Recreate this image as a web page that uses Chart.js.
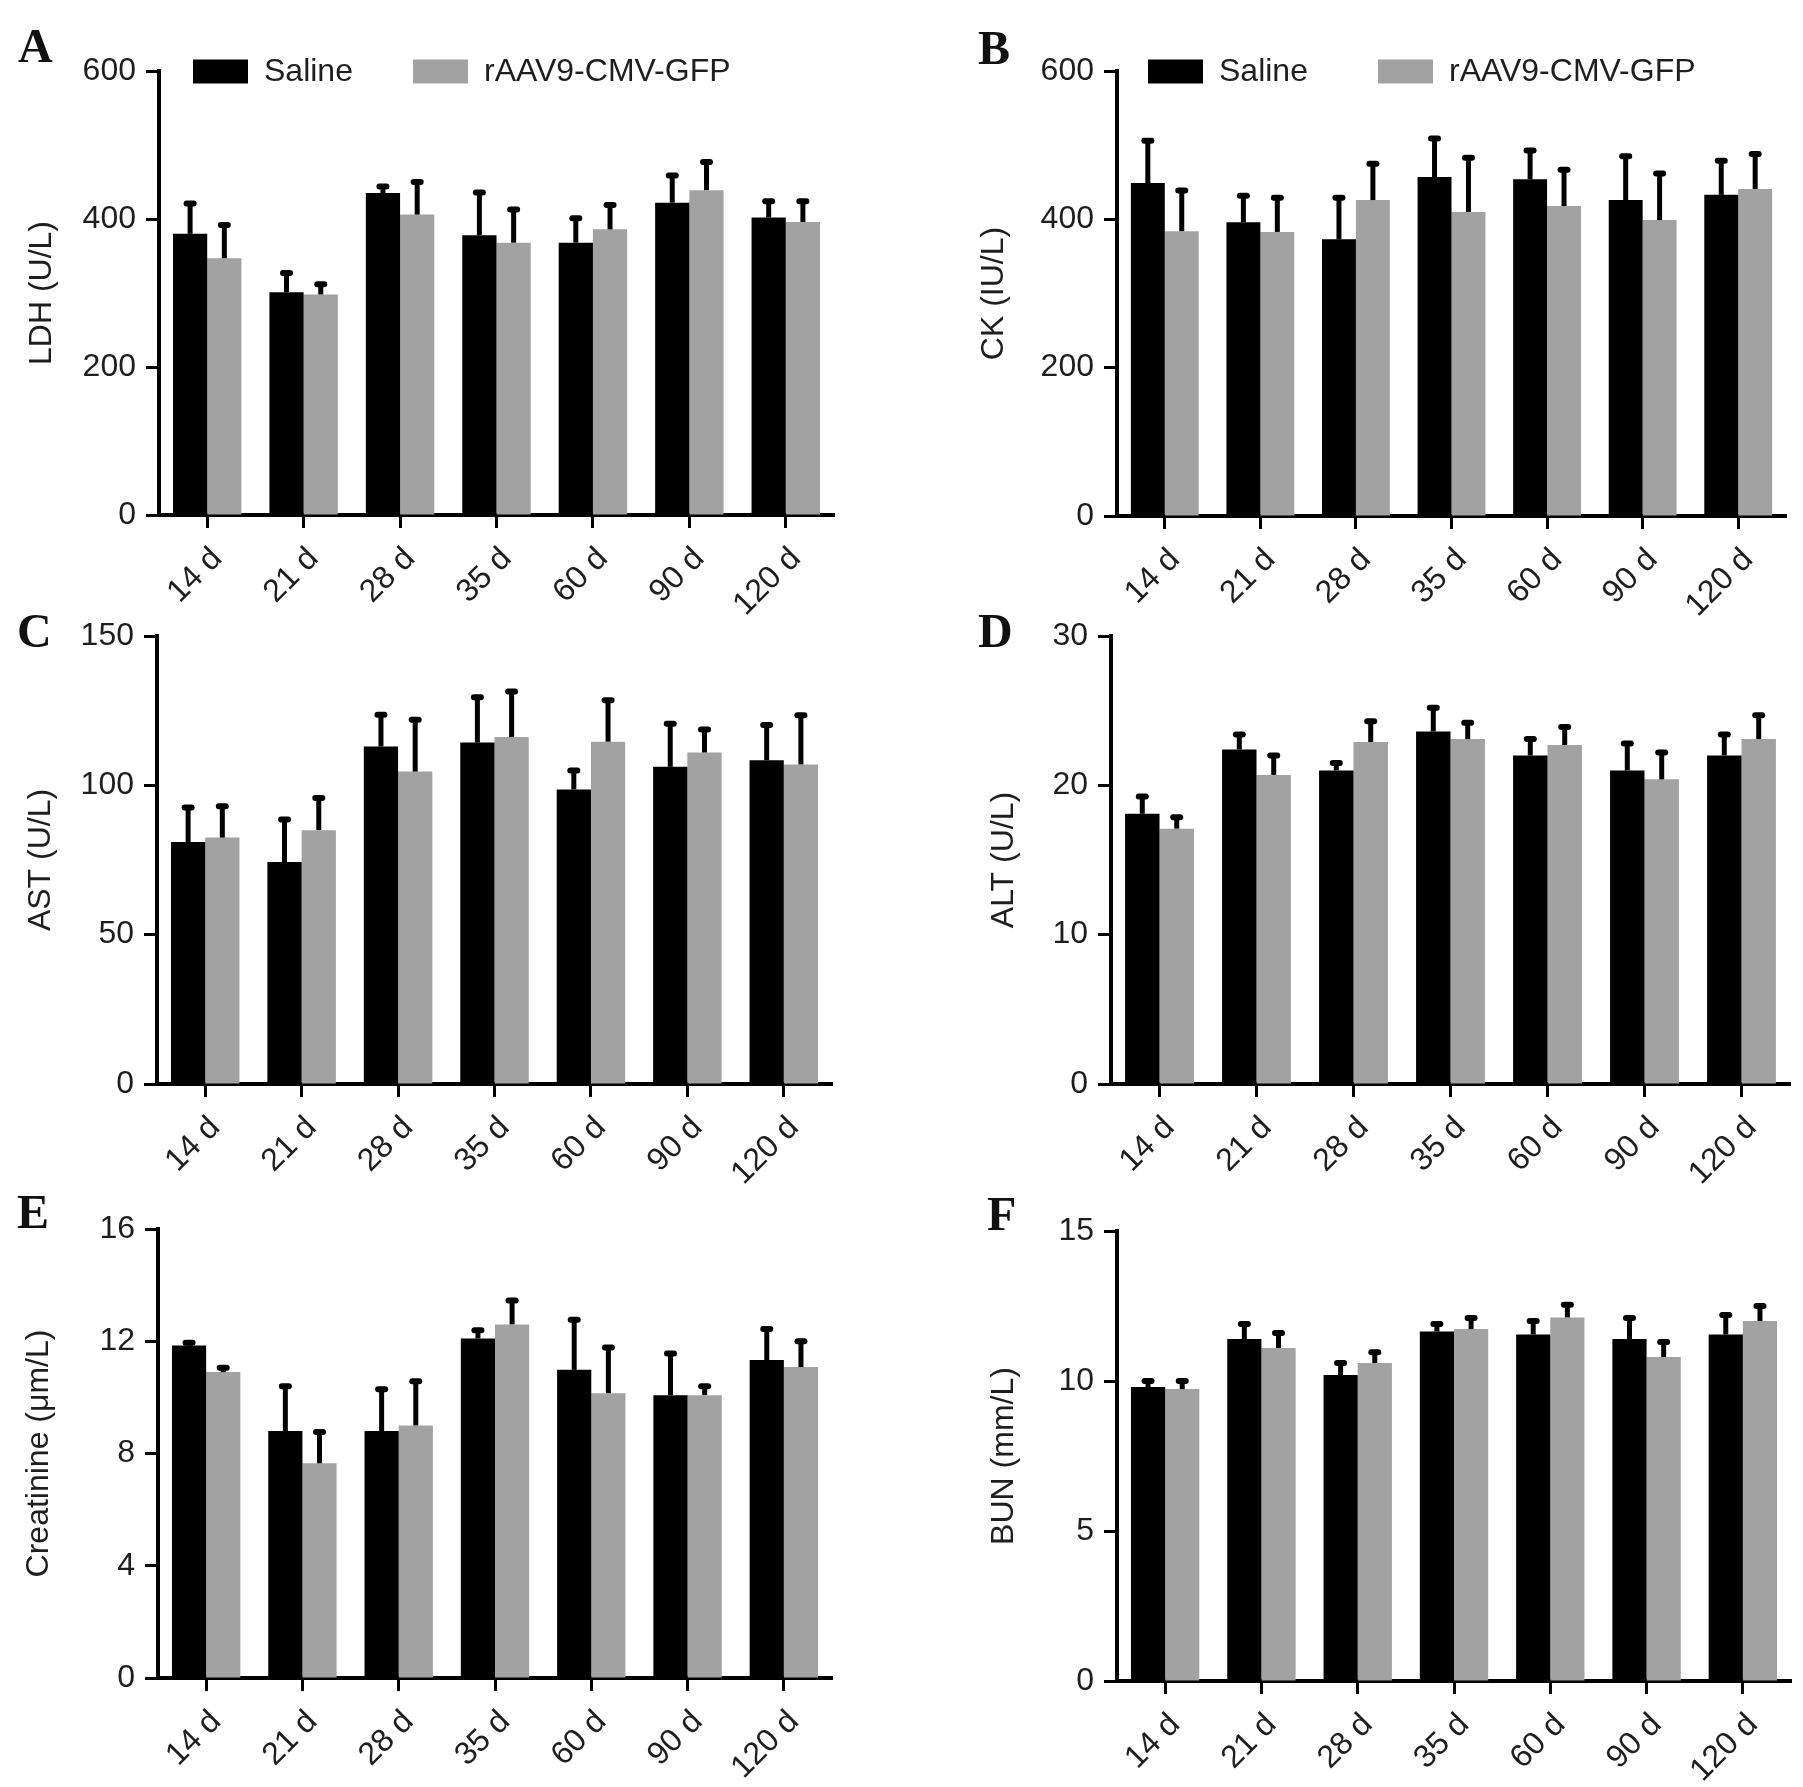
<!DOCTYPE html>
<html>
<head>
<meta charset="utf-8">
<script src="https://cdn.jsdelivr.net/npm/chart.js@4.4.0/dist/chart.umd.min.js"></script>
<style>
    html, body { margin: 0; padding: 0; background: #fff; }
    #fig { position: relative; width: 1803px; height: 1787px; overflow: hidden; background: #fff; }
    #fig canvas { position: absolute; }
    .letter {
        position: absolute;
        font-family: 'Liberation Serif', 'Times New Roman', serif;
        font-weight: bold;
        font-size: 48px;
        line-height: 48px;
        color: #111;
    }
</style>
</head>
<body>
<div id="fig"></div>
<script>
// --- dados ---
const days = ['14 d', '21 d', '28 d', '35 d', '60 d', '90 d', '120 d'];
const seriesNames = ['Saline', 'rAAV9-CMV-GFP'];

const ldhSaline = [380, 301, 435, 378, 368, 422, 402];
const ldhSalineErr = [45, 30, 13, 62, 37, 41, 26];
const ldhGfp = [347, 298, 406, 368, 386, 439, 396];
const ldhGfpErr = [49, 18, 48, 49, 37, 42, 32];

const ckSaline = [449, 396, 373, 457, 454, 426, 433];
const ckSalineErr = [61, 40, 60, 56, 43, 63, 50];
const ckGfp = [384, 383, 426, 410, 418, 399, 441];
const ckGfpErr = [59, 50, 53, 77, 53, 67, 51];

const astSaline = [81, 74.3, 113, 114.3, 98.6, 106.2, 108.4];
const astSalineErr = [12.6, 15.3, 11.6, 16.2, 7.4, 15.4, 12.8];
const astGfp = [82.5, 85, 104.6, 116.2, 114.6, 111, 107];
const astGfpErr = [11.5, 11.8, 18.4, 16.2, 14.9, 8.7, 17.5];

const altSaline = [18.1, 22.4, 21.0, 23.6, 22.0, 21.0, 22.0];
const altSalineErr = [1.35, 1.2, 0.7, 1.8, 1.3, 2.0, 1.6];
const altGfp = [17.1, 20.7, 22.9, 23.1, 22.7, 20.4, 23.1];
const altGfpErr = [0.96, 1.5, 1.6, 1.3, 1.4, 2.0, 1.8];

const creSaline = [11.85, 8.8, 8.8, 12.1, 10.98, 10.08, 11.33];
const creSalineErr = [0.2, 1.7, 1.6, 0.4, 1.89, 1.59, 1.21];
const creGfp = [10.9, 7.65, 9.0, 12.6, 10.15, 10.08, 11.08];
const creGfpErr = [0.26, 1.22, 1.68, 0.96, 1.73, 0.42, 1.03];

const bunSaline = [9.8, 11.4, 10.2, 11.65, 11.55, 11.4, 11.55];
const bunSalineErr = [0.3, 0.6, 0.5, 0.35, 0.55, 0.8, 0.75];
const bunGfp = [9.73, 11.1, 10.6, 11.73, 12.12, 10.8, 12.0];
const bunGfpErr = [0.37, 0.6, 0.46, 0.47, 0.52, 0.6, 0.6];

const yTicksA = { max: 600, step: 200 };
const yTicksB = { max: 600, step: 200 };
const yTicksC = { max: 150, step: 50 };
const yTicksD = { max: 30, step: 10 };
const yTicksE = { max: 16, step: 4 };
const yTicksF = { max: 15, step: 5 };

// --- estilo e posições ---
const FONT = "'Liberation Sans', Arial, sans-serif";
const TEXT_COLOR = '#1e1e1e';
const BLACK = '#000000';
const GRAY = '#a2a2a2';

const panels = [
    { letter: 'A', title: 'LDH (U/L)', ticks: yTicksA, saline: [ldhSaline, ldhSalineErr], gfp: [ldhGfp, ldhGfpErr],
      box: { x: 0, y: 0, w: 880, h: 640 }, area: { left: 159, top: 71, right: 834, bottom: 515 },
      titleX: 42, letterPos: [18, 22], legend: [34, 254] },
    { letter: 'B', title: 'CK (IU/L)', ticks: yTicksB, saline: [ckSaline, ckSalineErr], gfp: [ckGfp, ckGfpErr],
      box: { x: 880, y: 0, w: 923, h: 640 }, area: { left: 1117, top: 71, right: 1786, bottom: 516 },
      titleX: 994, letterPos: [978, 24], legend: [31, 261] },
    { letter: 'C', title: 'AST (U/L)', ticks: yTicksC, saline: [astSaline, astSalineErr], gfp: [astGfp, astGfpErr],
      box: { x: 0, y: 590, w: 880, h: 640 }, area: { left: 157, top: 636, right: 832, bottom: 1084 },
      titleX: 41, letterPos: [17, 607], legend: null },
    { letter: 'D', title: 'ALT (U/L)', ticks: yTicksD, saline: [altSaline, altSalineErr], gfp: [altGfp, altGfpErr],
      box: { x: 880, y: 590, w: 923, h: 640 }, area: { left: 1111, top: 636, right: 1790, bottom: 1084 },
      titleX: 1004, letterPos: [978, 607], legend: null },
    { letter: 'E', title: 'Creatinine (\u03bcm/L)', ticks: yTicksE, saline: [creSaline, creSalineErr], gfp: [creGfp, creGfpErr],
      box: { x: 0, y: 1180, w: 880, h: 607 }, area: { left: 158, top: 1229, right: 832, bottom: 1678 },
      titleX: 39, letterPos: [17, 1188], legend: null },
    { letter: 'F', title: 'BUN (mm/L)', ticks: yTicksF, saline: [bunSaline, bunSalineErr], gfp: [bunGfp, bunGfpErr],
      box: { x: 880, y: 1180, w: 923, h: 607 }, area: { left: 1117, top: 1231, right: 1791, bottom: 1681 },
      titleX: 1004, letterPos: [987, 1190], legend: null }
];

// Barras de erro (só o lado de cima, como no GraphPad)
const errorBars = {
    id: 'errorBars',
    afterDatasetsDraw(chart) {
        const ctx = chart.ctx;
        const yScale = chart.scales.y;
        chart.data.datasets.forEach((ds, i) => {
            const meta = chart.getDatasetMeta(i);
            meta.data.forEach((bar, j) => {
                const top = yScale.getPixelForValue(ds.data[j] + ds.errors[j]);
                ctx.save();
                ctx.strokeStyle = '#000';
                ctx.lineWidth = 5;
                ctx.beginPath();
                ctx.moveTo(bar.x, bar.y);
                ctx.lineTo(bar.x, top + 3);
                ctx.stroke();
                ctx.lineWidth = 6;
                ctx.lineCap = 'round';
                ctx.beginPath();
                ctx.moveTo(bar.x - 3.5, top + 3);
                ctx.lineTo(bar.x + 3.5, top + 3);
                ctx.stroke();
                ctx.restore();
            });
        });
    }
};

// Legenda desenhada dentro da área do gráfico
const boxLegend = {
    id: 'boxLegend',
    afterDraw(chart, args, opts) {
        if (!opts.offsets) return;
        const ctx = chart.ctx;
        const area = chart.chartArea;
        ctx.save();
        ctx.font = `32px ${FONT}`;
        ctx.textBaseline = 'middle';
        chart.data.datasets.forEach((ds, i) => {
            const x = area.left + opts.offsets[i];
            const yc = area.top + 0.5;
            ctx.fillStyle = ds.backgroundColor;
            ctx.fillRect(x, yc - 12, 55, 24);
            ctx.fillStyle = TEXT_COLOR;
            ctx.fillText(ds.label, x + 71, yc + 1);
        });
        ctx.restore();
    }
};

function buildPanel(p) {
    const fig = document.getElementById('fig');
    const canvas = document.createElement('canvas');
    canvas.width = p.box.w;
    canvas.height = p.box.h;
    canvas.style.left = p.box.x + 'px';
    canvas.style.top = p.box.y + 'px';
    canvas.style.width = p.box.w + 'px';
    canvas.style.height = p.box.h + 'px';
    fig.appendChild(canvas);

    const letter = document.createElement('div');
    letter.className = 'letter';
    letter.textContent = p.letter;
    letter.style.left = p.letterPos[0] + 'px';
    letter.style.top = p.letterPos[1] + 'px';
    fig.appendChild(letter);

    const titleHalf = 32 * 1.2 / 2;
    const padLeft = p.titleX - titleHalf - p.box.x;
    const yWidth = p.area.left - p.box.x - padLeft;
    const xHeight = p.box.y + p.box.h - p.area.bottom;

    new Chart(canvas.getContext('2d'), {
        type: 'bar',
        data: {
            labels: days,
            datasets: [{
                label: seriesNames[0],
                data: p.saline[0],
                errors: p.saline[1],
                backgroundColor: BLACK,
                borderWidth: 0
            }, {
                label: seriesNames[1],
                data: p.gfp[0],
                errors: p.gfp[1],
                backgroundColor: GRAY,
                borderWidth: 0
            }]
        },
        options: {
            responsive: false,
            devicePixelRatio: 1,
            animation: false,
            barPercentage: 1.0,
            categoryPercentage: 0.71,
            layout: {
                padding: {
                    left: padLeft,
                    top: p.area.top - p.box.y,
                    right: p.box.x + p.box.w - p.area.right,
                    bottom: 0
                }
            },
            plugins: {
                legend: { display: false },
                tooltip: { enabled: false },
                boxLegend: { offsets: p.legend }
            },
            scales: {
                x: {
                    offset: true,
                    grid: {
                        display: true,
                        offset: false,
                        drawOnChartArea: false,
                        drawTicks: true,
                        tickLength: 13,
                        tickWidth: 3,
                        tickColor: '#000'
                    },
                    border: { display: true, color: '#000', width: 4 },
                    ticks: {
                        font: { family: FONT, size: 32 },
                        color: TEXT_COLOR,
                        minRotation: 45,
                        maxRotation: 45,
                        padding: 12,
                        labelOffset: 10
                    },
                    afterFit(scale) { scale.height = xHeight; }
                },
                y: {
                    min: 0,
                    max: p.ticks.max,
                    grid: {
                        display: true,
                        drawOnChartArea: false,
                        drawTicks: true,
                        tickLength: 13,
                        tickWidth: 3,
                        tickColor: '#000'
                    },
                    border: { display: true, color: '#000', width: 4 },
                    ticks: {
                        stepSize: p.ticks.step,
                        font: { family: FONT, size: 32 },
                        color: TEXT_COLOR,
                        padding: 10
                    },
                    title: {
                        display: true,
                        text: p.title,
                        font: { family: FONT, size: 32 },
                        color: TEXT_COLOR,
                        padding: 0
                    },
                    afterFit(scale) { scale.width = yWidth; }
                }
            }
        },
        plugins: [errorBars, boxLegend]
    });
}

panels.forEach(buildPanel);
</script>
</body>
</html>
